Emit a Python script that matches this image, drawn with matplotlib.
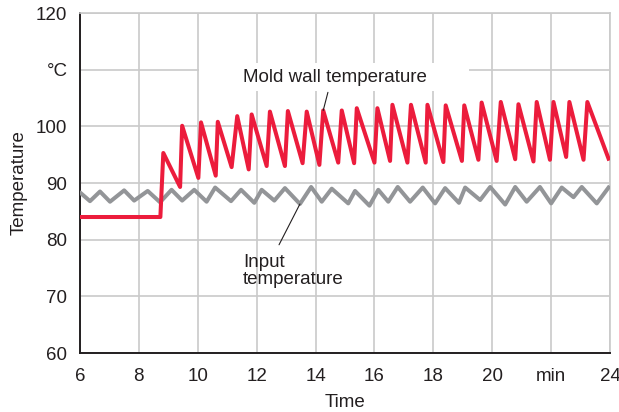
import numpy as np
import matplotlib.pyplot as plt
from matplotlib.patches import Rectangle

plt.rcParams['font.family'] = ['Liberation Sans', 'DejaVu Sans']

# mold wall temperature (red), time in min
red_t = [6.0, 8.73, 8.83, 9.40, 9.47, 10.02, 10.11, 10.61, 10.68, 11.15, 11.34,
         11.73, 11.83, 12.34, 12.45, 12.96, 13.06, 13.56, 13.70, 14.13, 14.26,
         14.77, 14.89, 15.31, 15.40, 16.00, 16.10, 16.53, 16.61, 17.12, 17.24,
         17.74, 17.80, 18.34, 18.42, 18.97, 19.05, 19.53, 19.64, 20.15, 20.29,
         20.78, 20.89, 21.40, 21.51, 21.96, 22.08, 22.51, 22.62, 23.10, 23.23, 23.95]
red_v = [84.0, 84.0, 95.3, 89.3, 100.1, 90.9, 100.7, 91.3, 100.8, 92.8, 101.8,
         92.4, 102.1, 93.0, 102.6, 93.0, 102.7, 93.5, 102.6, 93.2, 102.8,
         93.6, 102.8, 93.5, 103.2, 93.6, 103.2, 93.9, 103.8, 93.6, 103.8,
         93.6, 103.8, 93.7, 103.7, 93.9, 103.7, 94.1, 104.2, 93.9, 104.3,
         94.2, 103.9, 93.8, 104.3, 94.1, 104.3, 94.6, 104.3, 94.1, 104.3, 94.3]

# input temperature (gray)
gray_t = [6.03, 6.34, 6.68, 7.02, 7.50, 7.84, 8.30, 8.72, 9.11, 9.47, 9.88,
          10.30, 10.59, 11.13, 11.47, 11.92, 12.17, 12.60, 12.96, 13.47, 13.85,
          14.21, 14.55, 15.11, 15.34, 15.83, 16.13, 16.47, 16.79, 17.21, 17.64,
          18.06, 18.40, 18.87, 19.08, 19.59, 19.93, 20.44, 20.78, 21.17, 21.62,
          22.00, 22.36, 22.76, 23.04, 23.55, 23.95]
gray_v = [88.2, 86.8, 88.5, 86.7, 88.7, 86.9, 88.6, 86.6, 88.8, 86.9, 88.8,
          86.7, 89.2, 86.8, 88.8, 86.5, 88.8, 86.9, 89.1, 86.3, 89.3,
          86.7, 89.0, 86.4, 88.6, 86.0, 88.8, 86.7, 89.3, 86.7, 89.2,
          86.4, 89.1, 86.5, 89.2, 87.0, 89.3, 86.2, 89.3, 86.7, 89.3,
          86.4, 89.2, 87.5, 89.3, 86.4, 89.2]

x_ticks = [6, 8, 10, 12, 14, 16, 18, 20, 22, 24]
x_labels = ['6', '8', '10', '12', '14', '16', '18', '20', 'min', '24']
y_ticks = [60, 70, 80, 90, 100, 110, 120]
y_labels = ['60', '70', '80', '90', '100', '°C', '120']

red = '#EC1C3C'
gray = '#939598'
grid_c = '#CACACA'
ink = '#231F20'
fs = 13.5

fig = plt.figure(figsize=(6.19, 4.12), dpi=100)
ax = fig.add_axes([0.1292, 0.1432, 0.8563, 0.8252])

ax.set_xlim(6, 24)
ax.set_ylim(60, 120)
ax.set_xticks(x_ticks)
ax.set_xticklabels(x_labels)
ax.set_yticks(y_ticks)
ax.set_yticklabels(y_labels)
ax.tick_params(length=0, labelsize=fs, colors=ink)
ax.tick_params(axis='x', pad=11)
ax.tick_params(axis='y', pad=9)
ax.grid(True, color=grid_c, linewidth=1.2, zorder=0)
ax.set_axisbelow(True)

for side in ['top', 'right']:
    ax.spines[side].set_color(grid_c)
    ax.spines[side].set_linewidth(1.2)
for side in ['left', 'bottom']:
    ax.spines[side].set_color(ink)
    ax.spines[side].set_linewidth(1.4)

# white box behind the upper label hides the grid there
ax.add_patch(Rectangle((10.05, 106.2), 9.15, 5.0, facecolor='white',
                       edgecolor='none', zorder=1))

ax.plot(gray_t, gray_v, color=gray, linewidth=2.9, zorder=3)
ax.plot(red_t, red_v, color=red, linewidth=2.9, zorder=4)

ax.text(11.54, 108.6, 'Mold wall temperature', fontsize=fs, color=ink,
        va='center', ha='left', zorder=5)
ax.annotate('', xy=(red_t[20], red_v[20]), xytext=(14.42, 106.0),
            arrowprops=dict(arrowstyle='-', color=ink, lw=0.8,
                            shrinkA=0, shrinkB=0), zorder=5)

ax.text(11.54, 74.5, 'Input\ntemperature', fontsize=fs, color=ink,
        va='center', ha='left', linespacing=1.05, zorder=5)
ax.annotate('', xy=(gray_t[19], gray_v[19]), xytext=(12.76, 79.1),
            arrowprops=dict(arrowstyle='-', color=ink, lw=0.8,
                            shrinkA=0, shrinkB=0), zorder=5)

ax.set_xlabel('Time', fontsize=fs, color=ink, labelpad=6)
ax.set_ylabel('Temperature', fontsize=fs, color=ink, labelpad=6)

fig.savefig('out.png', dpi=100)
